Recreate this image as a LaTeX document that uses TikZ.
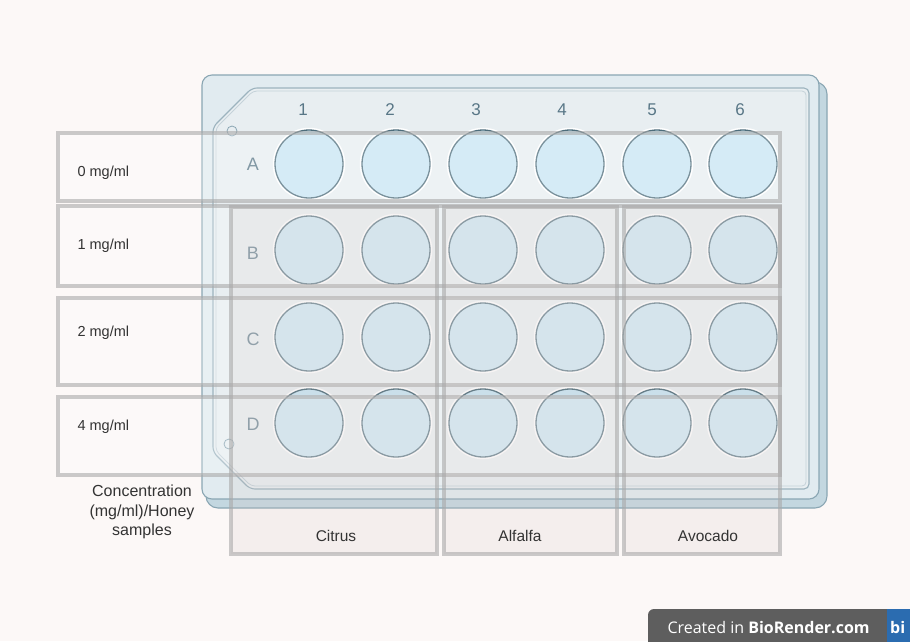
\documentclass[tikz,border=0pt]{standalone}
\usepackage{fontspec}
\setmainfont{Liberation Sans}
\newfontfamily\wmfont{Open Sans}
\definecolor{bg}{HTML}{FCF8F7}
\definecolor{platebase}{HTML}{C3D7E0}
\definecolor{plateedge}{HTML}{8AA6B3}
\definecolor{platetop}{HTML}{E1EBF0}
\definecolor{plateinner}{HTML}{E8EEF1}
\definecolor{wellfill}{HTML}{C8E5F3}
\definecolor{welledge}{HTML}{4E6D7B}
\definecolor{platelabel}{HTML}{587686}
\definecolor{boxline}{HTML}{A9A9A9}
\definecolor{colfill}{HTML}{D5C6C3}
\definecolor{txt}{HTML}{333333}
\definecolor{wmgray}{HTML}{5E5E5E}
\definecolor{wmblue}{HTML}{2B6CB0}
\begin{document}
\begin{tikzpicture}[x=1pt,y=-1pt,
  wellnode/.style={circle, minimum size=68pt, inner sep=0pt, fill=wellfill, draw=welledge, line width=1.3pt,
    preaction={draw=white, line width=4.5pt}},
  rowbox/.style={draw=boxline, draw opacity=0.6, line width=3.5pt, fill=white, fill opacity=0.25, inner sep=0pt},
  colbox/.style={draw=boxline, draw opacity=0.6, line width=3.5pt, fill=colfill, fill opacity=0.18, inner sep=0pt},
  numlabel/.style={text=platelabel, font=\fontsize{17}{20}\selectfont},
  rowletter/.style={text=platelabel, font=\fontsize{18}{21}\selectfont},
  conclabel/.style={text=txt, anchor=west, font=\fontsize{14.5}{17}\selectfont},
  samplelabel/.style={text=txt, font=\fontsize{15.5}{18}\selectfont},
  pin/.style={draw=plateedge, line width=0.8pt}
]
\useasboundingbox (0,0) rectangle (910,641);
\fill[bg] (0,0) rectangle (910,641);

% plate
\draw[fill=platebase, draw=plateedge, line width=1.1pt, rounded corners=12pt] (206,82) rectangle (827,508);
\draw[fill=platetop, draw=plateedge, line width=1.1pt, rounded corners=10pt] (202,75) rectangle (819,499);
\draw[fill=plateinner, draw=plateedge!85, line width=1.1pt, rounded corners=5pt]
  (213,127) -- (252,88) -- (809,88) -- (809,489) -- (250,489) -- (213,452) -- cycle;
\draw[draw=plateedge!50, line width=0.8pt, rounded corners=4pt]
  (216,128) -- (253,91) -- (806,91) -- (806,486) -- (251,486) -- (216,451) -- cycle;
\node[pin, circle, minimum size=10pt, inner sep=0pt] (pinA) at (232,131) {};
\node[pin, circle, minimum size=10pt, inner sep=0pt] (pinB) at (229,444) {};

% column numbers and row letters
\foreach \c/\x in {1/303,2/390,3/476,4/562,5/652,6/740} {
  \node[numlabel] (n\c) at (\x,110) {\c};
}
\foreach \r/\y in {A/164,B/253,C/339,D/424} {
  \node[rowletter] (l\r) at (253,\y) {\r};
}

% wells
\foreach \r/\y in {A/164,B/250,C/337,D/423} {
  \foreach \c/\x in {1/309,2/396,3/483,4/570,5/657,6/743} {
    \node[wellnode] (w\r\c) at (\x,\y) {};
  }
}

% row boxes
\node[rowbox, minimum width=722pt, minimum height=68pt] (r0) at (419,167) {};
\node[rowbox, minimum width=722pt, minimum height=80pt] (r1) at (419,246) {};
\node[rowbox, minimum width=722pt, minimum height=87pt] (r2) at (419,341.5) {};
\node[rowbox, minimum width=722pt, minimum height=78pt] (r3) at (419,436) {};

% column boxes
\node[colbox, minimum width=206pt, minimum height=347pt] (cCit) at (334,380.5) {};
\node[colbox, minimum width=173pt, minimum height=347pt] (cAlf) at (530.5,380.5) {};
\node[colbox, minimum width=156pt, minimum height=347pt] (cAvo) at (702,380.5) {};

% labels
\node[conclabel] (t0) at (74,173) {0 mg/ml};
\node[conclabel] (t1) at (74,246) {1 mg/ml};
\node[conclabel] (t2) at (74,333) {2 mg/ml};
\node[conclabel] (t3) at (74,427) {4 mg/ml};

\node[samplelabel] (sCit) at (336,536) {Citrus};
\node[samplelabel] (sAlf) at (520,536) {Alfalfa};
\node[samplelabel] (sAvo) at (708,536) {Avocado};

\node[text=txt, align=center, font=\fontsize{16}{19.5}\selectfont] (axis) at (142,512)
  {Concentration\\(mg/ml)/Honey\\samples};

% watermark
\begin{scope}
\clip (0,0) rectangle (910,641);
\fill[wmgray, rounded corners=6pt] (648,609) rectangle (920,650);
\fill[wmblue] (887,609) rectangle (920,650);
\node[text=white, anchor=base west, font=\wmfont\fontsize{16}{19}\selectfont] (wm) at (664,633)
  {Created in \textbf{BioRender.com}};
\node[text=white, anchor=base west, inner sep=0pt, font=\wmfont\bfseries\fontsize{16}{19}\selectfont] (wmb) at (890,633) {bi};
\end{scope}
\end{tikzpicture}
\end{document}
